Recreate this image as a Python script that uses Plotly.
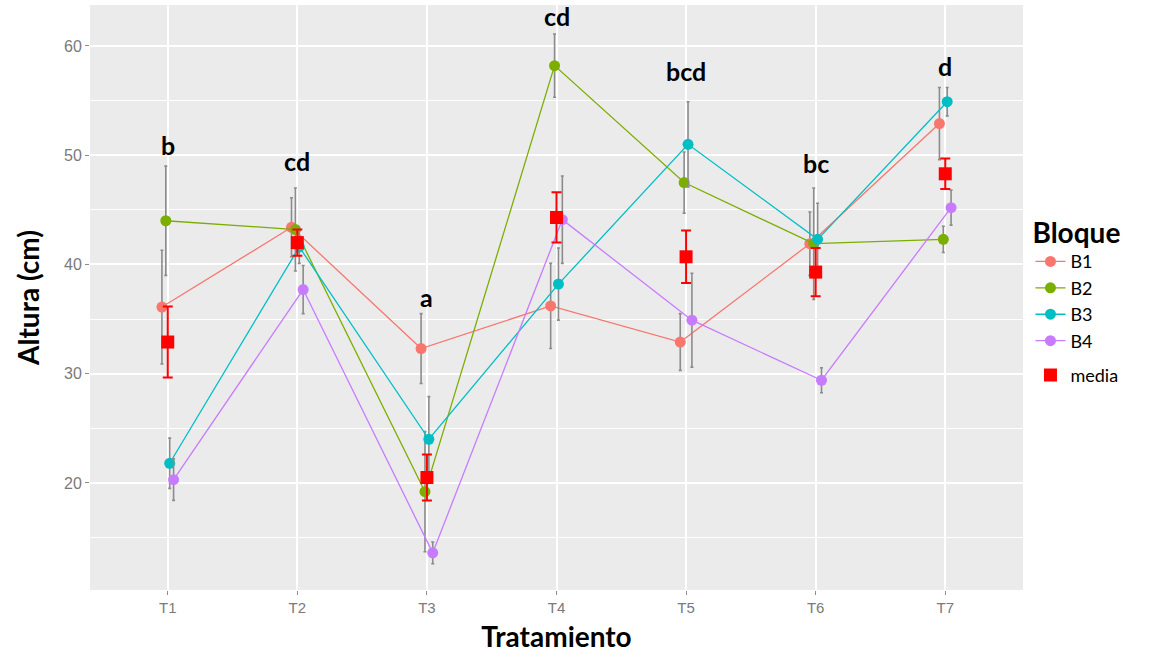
import plotly.graph_objects as go

tratamientos = ["T1", "T2", "T3", "T4", "T5", "T6", "T7"]
bloques = ["B1", "B2", "B3", "B4"]
colores = ["#F8766D", "#7CAE00", "#00BFC4", "#C77CFF"]

altura_B1 = [36.1, 43.4, 32.3, 36.2, 32.9, 41.9, 52.9]
altura_B2 = [44.0, 43.2, 19.2, 58.2, 47.5, 41.9, 42.3]
altura_B3 = [21.8, 41.6, 24.0, 38.2, 51.0, 42.3, 54.9]
altura_B4 = [20.3, 37.7, 13.6, 44.1, 34.9, 29.4, 45.2]

err_B1 = [5.2, 2.7, 3.2, 3.9, 2.6, 2.9, 3.3]
err_B2 = [5.0, 3.8, 5.5, 2.9, 2.8, 5.1, 1.2]
err_B3 = [2.3, 1.5, 3.9, 3.3, 3.9, 3.3, 1.3]
err_B4 = [1.9, 2.2, 1.0, 4.0, 4.3, 1.15, 1.6]

media = [32.9, 42.0, 20.5, 44.3, 40.7, 39.3, 48.3]
err_media = [3.25, 1.2, 2.1, 2.3, 2.4, 2.2, 1.4]

letras = ["b", "cd", "a", "cd", "bcd", "bc", "d"]
letras_y = [50.9, 49.5, 37.0, 62.75, 57.7, 49.3, 58.2]

alturas = [altura_B1, altura_B2, altura_B3, altura_B4]
errores = [err_B1, err_B2, err_B3, err_B4]
dodge = [-0.045, -0.015, 0.015, 0.045]

xs = list(range(1, len(tratamientos) + 1))

fig = go.Figure()

for b, col, ys, es, d in zip(bloques, colores, alturas, errores, dodge):
    fig.add_trace(go.Scatter(
        x=[x + d for x in xs], y=ys, name=b, mode="lines+markers",
        line=dict(color=col, width=1.3),
        marker=dict(color=col, size=11, symbol="circle"),
        error_y=dict(type="data", array=es, visible=True, color="#8c8c8c",
                     thickness=1.6, width=1.5),
        legendgroup="bloque",
    ))

fig.add_trace(go.Scatter(
    x=xs, y=media, name="media", mode="markers",
    marker=dict(color="#FF0000", size=13, symbol="square"),
    error_y=dict(type="data", array=err_media, visible=True, color="#FF0000",
                 thickness=2, width=5),
    legendgroup="media",
))

for x, t, ty in zip(xs, letras, letras_y):
    fig.add_annotation(x=x, y=ty, text="<b>%s</b>" % t, showarrow=False,
                       font=dict(family="Lato", size=25, color="black"),
                       xanchor="center", yanchor="middle")

fig.update_layout(
    width=1166, height=661,
    margin=dict(l=90, r=143, t=5, b=71),
    paper_bgcolor="white",
    plot_bgcolor="#EBEBEB",
    showlegend=True,
    legend=dict(
        title=dict(text="<b>Bloque</b>", font=dict(family="Lato", size=28, color="black")),
        font=dict(family="Lato", size=18, color="black"),
        x=1.008, xanchor="left", y=0.655, yanchor="top",
        tracegroupgap=8, bgcolor="white",
    ),
    xaxis=dict(
        range=[0.4, 7.6], tickmode="array", tickvals=xs, ticktext=tratamientos,
        showgrid=True, gridcolor="white", gridwidth=1.5, zeroline=False,
        ticks="outside", ticklen=4, tickcolor="#8c8c8c",
        tickfont=dict(family="Liberation Sans", size=15, color="#7a7a7a"),
        title=dict(text="<b>Tratamiento</b>", font=dict(family="Lato", size=28, color="black"),
                   standoff=12),
    ),
    yaxis=dict(
        range=[10.2, 63.75], tickmode="linear", tick0=0, dtick=10,
        showgrid=True, gridcolor="white", gridwidth=1.5, zeroline=False,
        minor=dict(dtick=5, tick0=0, showgrid=True, gridcolor="white", gridwidth=0.7),
        ticks="outside", ticklen=4, tickcolor="#8c8c8c",
        tickfont=dict(family="Liberation Sans", size=16, color="#7a7a7a"),
        title=dict(text="<b>Altura (cm)</b>", font=dict(family="Lato", size=28, color="black"),
                   standoff=16),
    ),
)

fig.write_html("out.html")
